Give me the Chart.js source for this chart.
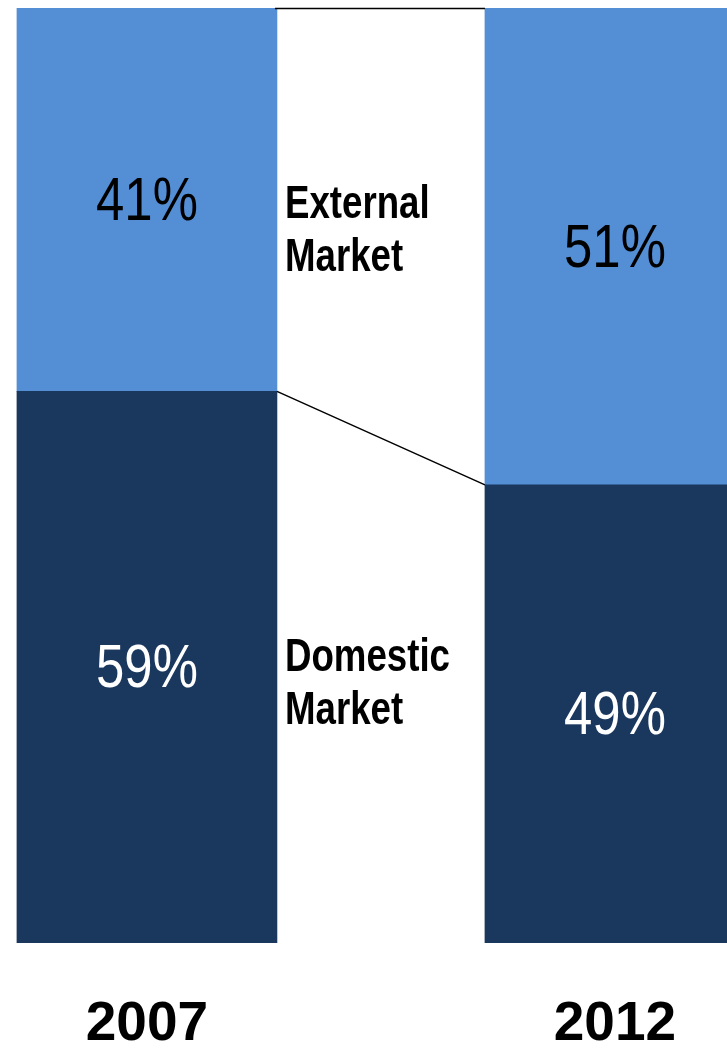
<!DOCTYPE html>
<html>
<head>
<meta charset="utf-8">
<script src="https://cdn.jsdelivr.net/npm/chart.js@4/dist/chart.umd.min.js"></script>
<style>
  html, body { margin: 0; padding: 0; background: #fff; overflow: hidden; }
  #wrap { width: 727px; height: 1048px; position: relative; }
</style>
</head>
<body>
<div id="wrap"><canvas id="shareChart"></canvas></div>
<script>
const years = [2007, 2012];
const seriesNames = ['Domestic Market', 'External Market'];
const domestic = [59, 49];
const external = [41, 51];

const FONT = '"Liberation Sans", Arial, sans-serif';
const BLUE = '#548ED5';
const NAVY = '#1A375E';

// condensed look: squeeze text horizontally around its anchor
function narrowText(ctx, txt, x, y, squeeze) {
  ctx.save();
  ctx.translate(x, y);
  ctx.scale(squeeze, 1);
  ctx.fillText(txt, 0, 0);
  ctx.restore();
}

// draws the % inside each segment, the connector lines and the side notes
const decorate = {
  id: 'decorate',
  afterDatasetsDraw(chart) {
    const ctx = chart.ctx;
    const dom = chart.getDatasetMeta(0).data;
    const ext = chart.getDatasetMeta(1).data;

    ctx.save();
    // connectors between bars
    ctx.strokeStyle = '#000';
    ctx.lineWidth = 1.5;
    const a = ext[0], b = ext[1];
    const aR = a.x + a.width / 2, bL = b.x - b.width / 2;
    ctx.beginPath();
    ctx.moveTo(aR - 2, a.y + 0.5);
    ctx.lineTo(bL, b.y + 0.5);
    ctx.moveTo(aR, a.base);
    ctx.lineTo(bL, b.base);
    ctx.stroke();

    // values in segments
    ctx.textAlign = 'center';
    ctx.textBaseline = 'middle';
    ctx.font = '62px ' + FONT;
    [dom, ext].forEach((els, di) => {
      const vals = di === 0 ? domestic : external;
      ctx.fillStyle = di === 0 ? '#fff' : '#000';
      els.forEach((el, i) => {
        narrowText(ctx, vals[i] + '%', el.x, (el.y + el.base) / 2 + 3, 0.82);
      });
    });

    // series notes between the bars
    ctx.textAlign = 'left';
    ctx.fillStyle = '#000';
    ctx.font = 'bold 47px ' + FONT;
    const nudge = [-7, 8];
    [dom, ext].forEach((els, di) => {
      const mid = ((els[0].y + els[0].base) / 2 + (els[1].y + els[1].base) / 2) / 2 + nudge[di];
      const words = seriesNames[di].split(' ');
      narrowText(ctx, words[0], aR + 8, mid - 26, 0.78);
      narrowText(ctx, words[1], aR + 8, mid + 27, 0.78);
    });
    ctx.restore();
  }
};

new Chart(document.getElementById('shareChart'), {
  type: 'bar',
  data: {
    datasets: [
      {
        label: seriesNames[0],
        data: years.map((y, i) => ({ x: y, y: domestic[i] })),
        backgroundColor: NAVY,
        barThickness: 260
      },
      {
        label: seriesNames[1],
        data: years.map((y, i) => ({ x: y, y: external[i] })),
        backgroundColor: BLUE,
        barThickness: 260
      }
    ]
  },
  options: {
    responsive: true,
    maintainAspectRatio: false,
    animation: false,
    layout: { padding: { top: 8, left: 0, right: 0, bottom: 0 } },
    plugins: {
      legend: { display: false },
      tooltip: { enabled: false }
    },
    scales: {
      x: {
        type: 'linear',
        stacked: true,
        offset: false,
        min: 2005.43,
        max: 2013.197,
        grid: { display: false, drawTicks: false },
        border: { display: false },
        afterBuildTicks: (axis) => { axis.ticks = years.map(v => ({ value: v })); },
        afterFit: (axis) => { axis.height = 105; },
        ticks: {
          autoSkip: false,
          maxRotation: 0,
          padding: 49,
          color: '#000',
          font: { family: FONT, size: 55, weight: 'bold' },
          callback: (v) => String(v)
        }
      },
      y: {
        stacked: true,
        display: false,
        min: 0,
        max: 100
      }
    }
  },
  plugins: [decorate]
});
</script>
</body>
</html>
